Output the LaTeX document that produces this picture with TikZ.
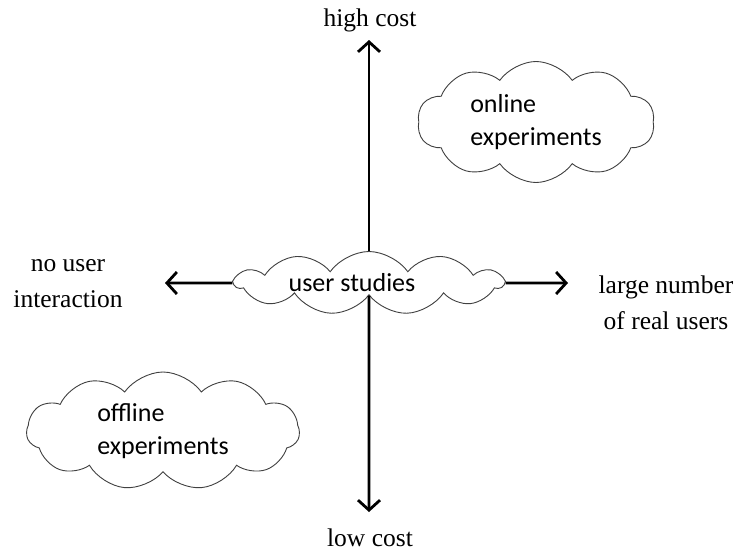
\documentclass[tikz,border=0pt]{standalone}
\usepackage{fontspec}
\setmainfont{Liberation Serif}
\newfontfamily\calibrifont{Carlito}
\usetikzlibrary{shapes.symbols,arrows.meta}
\begin{document}
\begin{tikzpicture}[x=1pt,y=-1pt]
\tikzset{
  lab/.style={font=\fontsize{25.5}{36}\selectfont, align=center, inner sep=0pt},
  cloudbox/.style={cloud, draw=black!75, line width=0.9pt, fill=white, inner sep=0pt,
     font=\calibrifont\fontsize{26}{33}\selectfont, align=left, cloud puff arc=110},
  axis/.style={line width=2.8pt, -{Straight Barb[length=10pt,width=22pt]}}
}
\useasboundingbox (0,0) rectangle (739,558);
\fill[white] (0,0) rectangle (739,558);
\node[lab] (hc) at (370,20) {high cost};
\node[lab] (lc) at (370,538) {low cost};
\node[lab] (nu) at (68,284) {no user\\interaction};
\node[lab] (ln) at (666,303) {large number\\of real users};
\coordinate (tn) at (369,40);
\coordinate (ts) at (369,512);
\coordinate (tw) at (165,283);
\coordinate (te) at (568,283);
\node[cloudbox, cloud puffs=11, cloud ignores aspect, minimum width=268pt, minimum height=63pt] (us) at (369,283) {user studies\hspace*{34pt}};
\draw[axis] (us.north) -- (tn);
\draw[axis] (us.south) -- (ts);
\draw[axis] (us.west) -- (tw);
\draw[axis] (us.east) -- (te);
\node[cloudbox, cloud puffs=10, aspect=2, minimum width=237pt, minimum height=121pt] (on) at (536,122) {online\\experiments};
\node[cloudbox, cloud puffs=11, aspect=2.3, minimum width=273pt, minimum height=118pt] (off) at (163,431) {offline\\experiments};
\end{tikzpicture}
\end{document}
